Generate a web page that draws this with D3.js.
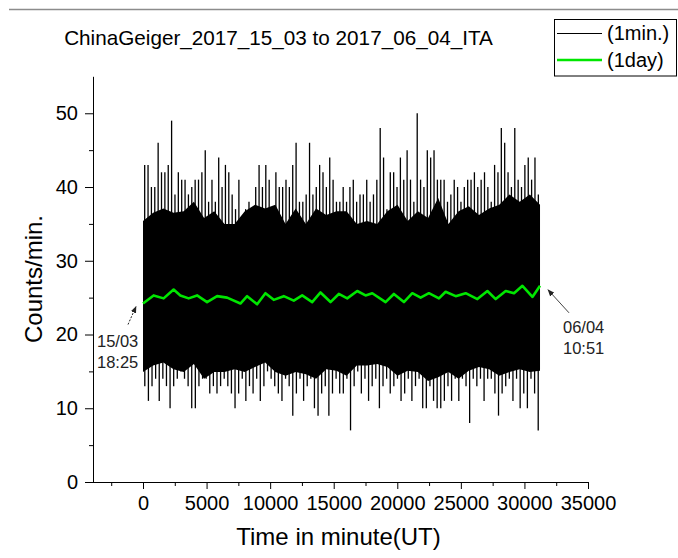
<!DOCTYPE html>
<html>
<head>
<meta charset="utf-8">
<script src="https://cdn.jsdelivr.net/npm/d3@7"></script>
<style>
  body { margin: 0; background: #fff; }
  svg { display: block; font-family: "Liberation Sans", Arial, sans-serif; }
</style>
</head>
<body>
<div id="chart"></div>
<script>
const width = 678;
const height = 558;

// run span in minutes (15/03 18:25 -> 06/04 10:51)
const runStart = 0;
const runEnd = 31226;

// tallest count in each short stretch of the 1-min record
const upperSpikes = [43, 43, 40, 40, 46, 42, 42, 43, 49, 39, 42, 41, 41, 39, 40, 41, 41, 42, 45, 38,
  41, 38, 44, 40, 43, 42, 39, 37, 41, 36, 37, 38, 37, 40, 43, 40, 43, 41, 37, 42,
  40, 40, 41, 40, 43, 46, 38, 38, 39, 46, 39, 40, 43, 42, 40, 44, 41, 38, 38, 40, 38,
  40, 41, 38, 39, 39, 41, 38, 39, 41, 48, 44, 37, 42, 42, 40, 44, 41, 45, 41, 38,
  50, 41, 40, 45, 44, 45, 41, 41, 41, 38, 39, 41, 40, 38, 40, 41, 41, 42, 40, 41,
  42, 40, 38, 43, 42, 48, 46, 42, 40, 48, 41, 40, 43, 44, 41, 44, 39];

// lowest count in each short stretch
const lowerSpikes = [13, 11, 13, 14, 11, 14, 13, 10, 13, 14, 15, 14, 13, 10, 10, 13, 14, 14, 12, 13,
  12, 13, 14, 13, 12, 10, 12, 14, 11, 13, 12, 14, 11, 13, 15, 14, 13, 12, 11, 14,
  13, 9, 12, 14, 11, 13, 14, 10, 9, 12, 13, 9, 12, 14, 12,
  12, 14, 7, 13, 15, 12, 14, 11, 13, 14, 10, 13, 14, 12, 13, 14, 11, 12, 14, 11,
  13, 14, 10, 10, 13, 11, 10, 10, 11, 13, 11, 14, 11, 14, 13, 8, 14, 13, 14, 11,
  14, 14, 12, 9, 12, 13, 14, 11, 14, 10, 12, 10, 14, 12, 7];

// edges of the solid part of the 1-min band
const coreTop = [35.4, 36.5, 37.1, 36.5, 36.7, 38, 35.8, 36.7, 35, 35, 36.7, 37.6, 37.1, 37.6, 35,
  37.1, 35, 37.1, 36.2, 36.7, 36.7, 35, 35.4, 35, 36.7, 37.6, 35.4, 36.7, 35.8, 38.5,
  35, 36.7, 37.4, 36.2, 37.1, 37.6, 39, 38, 39, 37.6];
const coreBottom = [14.9, 15.8, 16.2, 15.3, 14.9, 16, 14, 14.9, 14.9, 15.3, 14.9, 15.6, 16.2, 14.9,
  14.4, 14.9, 14.6, 14, 15.3, 15.1, 14.4, 15.8, 15.8, 16, 15.6, 14.4, 15.1, 14.9, 13.7,
  14.2, 14.9, 14, 15.1, 15.6, 15.3, 14.4, 14.9, 15.3, 14.9, 15.1];

// 1 day curve
const dayMinute = [0, 835, 1622, 2409, 2937, 3591, 4252, 5039, 5827, 6614, 7661, 8189, 8976, 9630,
  10283, 11071, 11858, 12520, 13307, 13961, 14748, 15402, 16063, 16850, 17504, 18031, 19079,
  19732, 20520, 21181, 21835, 22488, 23276, 23803, 24591, 25378, 26299, 27087, 27740, 28528,
  29181, 29843, 30630, 31226];
const dayCount = [24.2, 25.3, 24.9, 26.1, 25.3, 24.9, 25.3, 24.4, 25.2, 25.0, 24.2, 25.2, 24.1, 25.6,
  24.7, 25.2, 24.6, 25.3, 24.4, 25.7, 24.4, 25.5, 24.9, 25.9, 25.3, 25.6, 24.4,
  25.5, 24.4, 25.6, 25.0, 25.6, 24.9, 25.8, 25.2, 25.6, 24.8, 25.9, 24.8, 25.9,
  25.6, 26.6, 25.1, 26.6];

const xMajor = [0, 5000, 10000, 15000, 20000, 25000, 30000, 35000];
const xMinor = [-2500, 2500, 7500, 12500, 17500, 22500, 27500, 32500];
const yMajor = [0, 10, 20, 30, 40, 50];
const yMinor = [5, 15, 25, 35, 45];

const svg = d3.select("#chart").append("svg")
  .attr("width", width)
  .attr("height", height);

const x = d3.scaleLinear().domain([0, 35000]).range([143, 588]);
const y = d3.scaleLinear().domain([0, 55]).range([482, 76.4]);
const axisX = 93;

// thin grey rule along the top
svg.append("line")
  .attr("x1", 9).attr("x2", width)
  .attr("y1", 9.5).attr("y2", 9.5)
  .attr("stroke", "#8c8c8c").attr("stroke-width", 1.5);

// 1-min record
const minGroup = svg.append("g");

const coreBin = d3.scaleLinear().domain([0, coreTop.length - 1]).range([runStart, runEnd]);
minGroup.append("path")
  .datum(coreTop)
  .attr("fill", "#000")
  .attr("d", d3.area()
    .x((d, i) => x(coreBin(i)))
    .y0((d, i) => y(coreBottom[i]))
    .y1((d) => y(d)));

const upBin = d3.scaleLinear().domain([0, upperSpikes.length]).range([runStart, runEnd]);
minGroup.selectAll("line.up")
  .data(upperSpikes)
  .enter().append("line")
  .attr("class", "up")
  .attr("x1", (d, i) => x(upBin(i + 0.5)))
  .attr("x2", (d, i) => x(upBin(i + 0.5)))
  .attr("y1", (d) => y(d))
  .attr("y2", y(25))
  .attr("stroke", "#000")
  .attr("stroke-width", 1.3);

const lowBin = d3.scaleLinear().domain([0, lowerSpikes.length]).range([runStart, runEnd]);
minGroup.selectAll("line.low")
  .data(lowerSpikes)
  .enter().append("line")
  .attr("class", "low")
  .attr("x1", (d, i) => x(lowBin(i + 0.5)))
  .attr("x2", (d, i) => x(lowBin(i + 0.5)))
  .attr("y1", (d) => y(d))
  .attr("y2", y(25))
  .attr("stroke", "#000")
  .attr("stroke-width", 1.3);

// 1 day curve
const dayLine = d3.line()
  .x((d, i) => x(dayMinute[i]))
  .y((d) => y(d));

svg.append("path")
  .datum(dayCount)
  .attr("fill", "none")
  .attr("stroke", "#00e600")
  .attr("stroke-width", 2.6)
  .attr("stroke-linejoin", "round")
  .attr("d", dayLine);

// axes
const xAxisScale = x.copy().domain([-4550, 35000]).range([x(-4550), x(35000)]);

const gx = svg.append("g").attr("transform", "translate(0," + y(0) + ")");
gx.call(d3.axisBottom(xAxisScale).tickValues(xMinor).tickSize(4).tickSizeOuter(0).tickFormat(""));
gx.append("g").call(d3.axisBottom(xAxisScale).tickValues(xMajor).tickSize(7).tickPadding(7)
  .tickSizeOuter(0).tickFormat(d3.format("d")));

const gy = svg.append("g").attr("transform", "translate(" + axisX + ",0)");
gy.call(d3.axisLeft(y).tickValues(yMinor).tickSize(4).tickSizeOuter(0).tickFormat(""));
gy.append("g").call(d3.axisLeft(y).tickValues(yMajor).tickSize(8).tickPadding(7).tickSizeOuter(0));

svg.selectAll(".domain").attr("stroke", "#000").attr("stroke-width", 1);
svg.selectAll(".tick line").attr("stroke", "#000");
svg.selectAll(".tick text")
  .attr("font-family", "Liberation Sans, Arial, sans-serif")
  .attr("font-size", 20)
  .attr("fill", "#000");

// titles
svg.append("text")
  .attr("x", 278.5).attr("y", 45)
  .attr("text-anchor", "middle")
  .attr("font-size", 20.7)
  .text("ChinaGeiger_2017_15_03 to 2017_06_04_ITA");

svg.append("text")
  .attr("x", 338.5).attr("y", 545)
  .attr("text-anchor", "middle")
  .attr("font-size", 24)
  .text("Time in minute(UT)");

svg.append("text")
  .attr("transform", "translate(42,279) rotate(-90)")
  .attr("text-anchor", "middle")
  .attr("font-size", 24)
  .text("Counts/min.");

// legend
const legend = svg.append("g");
legend.append("rect")
  .attr("x", 554.5).attr("y", 19.5)
  .attr("width", 122).attr("height", 56.5)
  .attr("fill", "#fff").attr("stroke", "#000");
legend.append("line")
  .attr("x1", 557).attr("x2", 602).attr("y1", 33.5).attr("y2", 33.5)
  .attr("stroke", "#000").attr("stroke-width", 1);
legend.append("line")
  .attr("x1", 557).attr("x2", 602).attr("y1", 60).attr("y2", 60)
  .attr("stroke", "#00e600").attr("stroke-width", 2.5);
legend.append("text").attr("x", 607).attr("y", 40).attr("font-size", 20).text("(1min.)");
legend.append("text").attr("x", 607).attr("y", 67).attr("font-size", 20).text("(1day)");

// start / end notes
svg.append("defs").append("marker")
  .attr("id", "head")
  .attr("viewBox", "0 0 10 10")
  .attr("refX", 9).attr("refY", 5)
  .attr("markerWidth", 7).attr("markerHeight", 7)
  .attr("orient", "auto")
  .append("path")
  .attr("d", "M0,1 L10,5 L0,9 Z")
  .attr("fill", "#222");

const sx = x(runStart), sy = y(dayCount[0]);
svg.append("line")
  .attr("x1", sx - 15).attr("y1", sy + 21)
  .attr("x2", sx - 7).attr("y2", sy + 3)
  .attr("stroke", "#222").attr("stroke-width", 1)
  .attr("stroke-dasharray", "2,1.5")
  .attr("marker-end", "url(#head)");

const ex = x(runEnd), ey = y(dayCount[dayCount.length - 1]);
svg.append("line")
  .attr("x1", ex + 29).attr("y1", ey + 27)
  .attr("x2", ex + 8).attr("y2", ey + 4)
  .attr("stroke", "#444").attr("stroke-width", 1)
  .attr("marker-end", "url(#head)");

const notes = svg.append("g").attr("font-size", 16.5).attr("fill", "#222");
notes.append("text").attr("x", 97).attr("y", 347).text("15/03");
notes.append("text").attr("x", 97).attr("y", 368).text("18:25");
notes.append("text").attr("x", 563).attr("y", 333).text("06/04");
notes.append("text").attr("x", 563).attr("y", 354).text("10:51");
</script>
</body>
</html>
